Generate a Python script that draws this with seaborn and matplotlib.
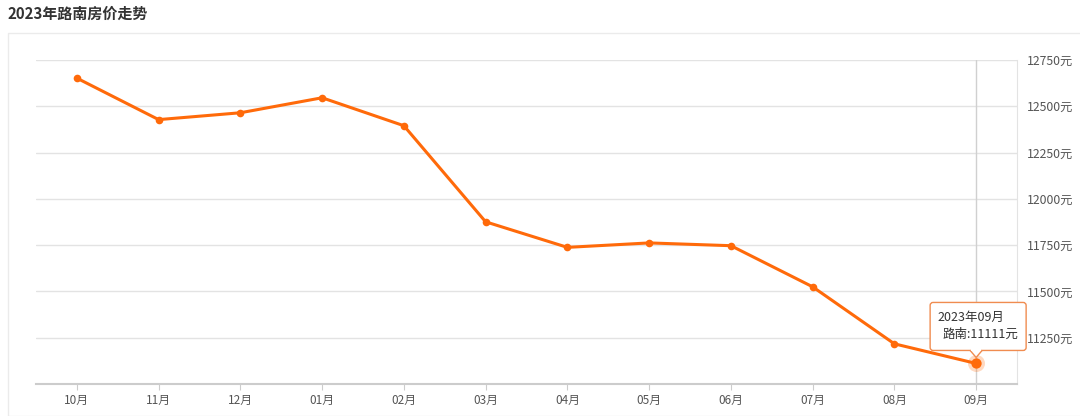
import pandas as pd
import seaborn as sns
import matplotlib.pyplot as plt
from matplotlib.patches import Rectangle, FancyBboxPatch, Polygon
from matplotlib.transforms import IdentityTransform

months = ['10月', '11月', '12月', '01月', '02月', '03月', '04月', '05月', '06月', '07月', '08月', '09月']
prices = [12652, 12428, 12465, 12546, 12395, 11876, 11738, 11762, 11747, 11525, 11217, 11111]
y_ticks = [11250, 11500, 11750, 12000, 12250, 12500, 12750]
title = '2023年路南房价走势'
tip_title = '2023年09月'
tip_text = '路南:11111元'

df = pd.DataFrame({'month': months, 'price': prices})
df['pos'] = range(len(months))

sns.set_style('white')
plt.rcParams['font.family'] = ['Noto Sans CJK SC', 'DejaVu Sans']

orange = '#ff6a0a'

fig = plt.figure(figsize=(10.8, 4.16), dpi=100)
# outer panel border
fig.patches.append(Rectangle((8 / 1080, 0), 1.2, (416 - 33) / 416, transform=fig.transFigure,
                             fill=False, edgecolor='#ebebeb', linewidth=1))
fig.text(8 / 1080, 1 - 14 / 416, title, fontsize=10.8, fontweight='bold', color='#333333', va='center')

ax = fig.add_axes([36 / 1080, 32 / 416, (1017 - 36) / 1080, (384 - 60) / 416])

sns.lineplot(data=df, x='pos', y='price', ax=ax, color=orange, linewidth=2.2,
             marker='o', markersize=5.5, markeredgewidth=0, zorder=5)

ax.set_xlim(-0.5, len(months) - 0.5)
ax.set_ylim(11000, 12750)
ax.set_xticks(df['pos'])
ax.set_xticklabels(months)
ax.set_yticks(y_ticks)
ax.set_yticklabels([f'{v}元' for v in y_ticks])
ax.yaxis.tick_right()
ax.tick_params(axis='y', length=0, pad=7, labelsize=8.8, labelcolor='#555555')
ax.tick_params(axis='x', length=4, width=0.8, color='#cccccc', pad=3, labelsize=8.5, labelcolor='#555555')
ax.xaxis.tick_bottom()
ax.set_xlabel('')
ax.set_ylabel('')

ax.grid(axis='y', color='#e3e3e3', linewidth=1)
for s in ['left', 'top']:
    ax.spines[s].set_visible(False)
ax.spines['right'].set_color('#e3e3e3')
ax.spines['bottom'].set_color('#cccccc')
ax.spines['bottom'].set_linewidth(1.5)

# hover crosshair and highlighted point
last = df.iloc[-1]
ax.axvline(last['pos'], color='#d0d0d0', linewidth=1, zorder=1)
ax.scatter([last['pos']], [last['price']], s=150, color=orange, alpha=0.25, linewidths=0, zorder=6)
ax.scatter([last['pos']], [last['price']], s=55, color=orange, linewidths=0, zorder=7)

# tooltip drawn in pixel space relative to the hovered point
px, py = ax.transData.transform((last['pos'], last['price']))
ident = IdentityTransform()
box = FancyBboxPatch((px - 46, py + 13), 96, 48, boxstyle='round,pad=0,rounding_size=3',
                     transform=ident, fc='white', ec='#f08c50', lw=1, zorder=10)
fig.patches.append(box)
tri = Polygon([(px - 6, py + 13), (px, py + 6), (px + 6, py + 13)], closed=False,
              transform=ident, fc='white', ec='#f08c50', lw=1, zorder=11)
fig.patches.append(tri)
fig.patches.append(Rectangle((px - 5.3, py + 12.2), 10.6, 1.8, transform=ident,
                             fc='white', ec='none', zorder=12))
fig.text(px - 39, py + 46, tip_title, transform=ident, fontsize=9, color='#333333',
         ha='left', va='center', zorder=13)
fig.text(px + 42, py + 29, tip_text, transform=ident, fontsize=9, color='#333333',
         ha='right', va='center', zorder=13)

fig.savefig('out.png', dpi=100)
